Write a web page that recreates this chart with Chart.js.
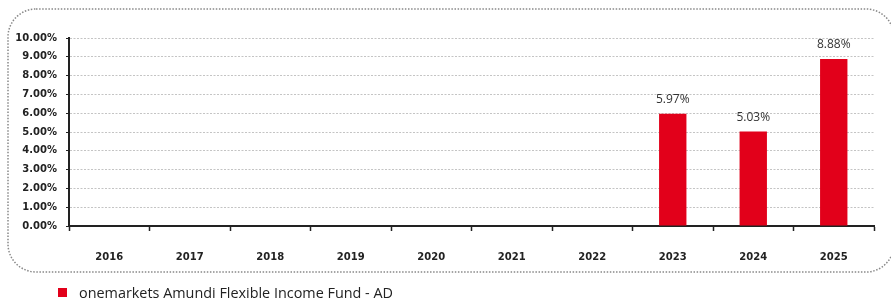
<!DOCTYPE html>
<html>
<head>
<meta charset="utf-8">
<script src="https://cdn.jsdelivr.net/npm/chart.js@4.4.1/dist/chart.umd.min.js"></script>
<style>
    html, body { margin: 0; padding: 0; background: #fff; overflow: hidden; }
    #wrap { position: relative; width: 891px; height: 299px; overflow: hidden; }
    #legend { position: absolute; left: 58px; top: 283px; font: 14.4px "Open Sans", sans-serif; color: #222; white-space: nowrap; }
    #legend .box { display: inline-block; width: 9px; height: 9px; margin-right: 12px; vertical-align: 1px; }
</style>
</head>
<body>
<div id="wrap">
    <canvas id="perfChart" width="891" height="299"></canvas>
    <div id="legend"></div>
</div>
<script>
// calendar years and yearly performance (%)
const years = ['2016', '2017', '2018', '2019', '2020', '2021', '2022', '2023', '2024', '2025'];
const fundReturns = [null, null, null, null, null, null, null, 5.97, 5.03, 8.88];
const fundName = 'onemarkets Amundi Flexible Income Fund - AD';
const yTicks = [0, 1, 2, 3, 4, 5, 6, 7, 8, 9, 10];

const RED = '#E2001A';

// dotted rounded frame around the plot (runs slightly off the right edge)
const framePlugin = {
    id: 'frame',
    beforeDraw(chart) {
        const ctx = chart.ctx;
        const x = 8, y = 9, w = 886, h = 263, r = 28;
        ctx.save();
        ctx.strokeStyle = '#888';
        ctx.lineWidth = 1.5;
        ctx.setLineDash([1.5, 1.6]);
        ctx.beginPath();
        ctx.roundRect(x, y, w, h, r);
        ctx.stroke();
        ctx.restore();
    }
};

// value labels above the bars
const valueLabels = {
    id: 'valueLabels',
    afterDatasetsDraw(chart) {
        const ctx = chart.ctx;
        const meta = chart.getDatasetMeta(0);
        ctx.save();
        ctx.font = '12px "Open Sans", sans-serif';
        ctx.fillStyle = '#333';
        ctx.textAlign = 'center';
        ctx.textBaseline = 'bottom';
        meta.data.forEach((bar, i) => {
            const v = fundReturns[i];
            if (v == null) return;
            ctx.fillText(v.toFixed(2) + '%', bar.x, bar.y - 8);
        });
        ctx.restore();
    }
};

new Chart(document.getElementById('perfChart'), {
    type: 'bar',
    data: {
        labels: years,
        datasets: [{
            label: fundName,
            data: fundReturns,
            backgroundColor: RED,
            borderWidth: 0,
            barPercentage: 0.34,
            categoryPercentage: 1.0
        }]
    },
    options: {
        responsive: false,
        animation: false,
        layout: { padding: { left: 7, right: 17, top: 38, bottom: 0 } },
        plugins: {
            legend: { display: false },
            tooltip: { enabled: false }
        },
        scales: {
            x: {
                offset: true,
                grid: { offset: true, drawOnChartArea: false, tickLength: 5, tickColor: '#222', tickWidth: 1.5 },
                border: { color: '#222', width: 2 },
                ticks: { padding: 20, color: '#222', font: { family: 'DejaVu Sans', size: 10, weight: 'bold' } },
                afterFit(scale) { scale.height = 73; }
            },
            y: {
                min: 0,
                max: 10,
                afterBuildTicks(scale) { scale.ticks = yTicks.map(v => ({ value: v })); },
                grid: { color: '#c4c4c4', tickLength: 3, tickColor: '#222' },
                border: { color: '#222', width: 2, dash: [2, 1.5] },
                ticks: {
                    padding: 9,
                    color: '#222',
                    font: { family: 'DejaVu Sans', size: 10, weight: 'bold' },
                    callback: v => v.toFixed(2) + '%'
                },
                afterFit(scale) { scale.width = 62; }
            }
        }
    },
    plugins: [framePlugin, valueLabels]
});

document.getElementById('legend').innerHTML =
    '<span class="box" style="background:' + RED + '"></span>' + fundName;
</script>
</body>
</html>
